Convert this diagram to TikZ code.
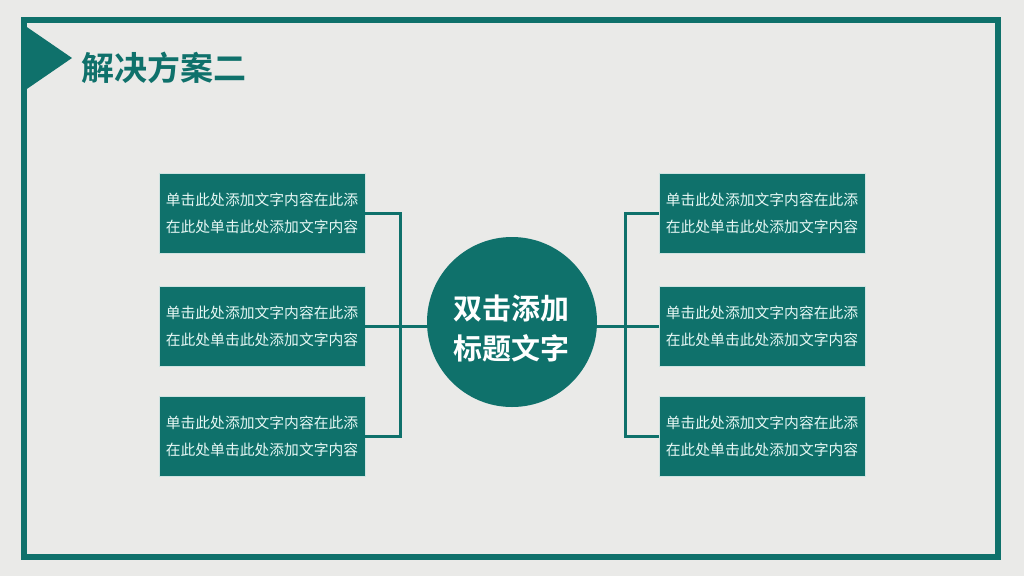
\documentclass[tikz,border=0pt]{standalone}
\usepackage{fontspec}
\newfontfamily\cjk{Noto Sans CJK SC}
\newfontfamily\cjkb{Noto Sans CJK SC Bold}
\definecolor{teal1}{HTML}{0F716B}
\definecolor{bgc}{HTML}{EAEAE8}
\definecolor{txtc}{HTML}{E6F7F4}
\begin{document}
\begin{tikzpicture}[x=1pt,y=-1pt,
  frame/.style={draw=teal1,line width=6pt},
  tbox/.style={fill=teal1,draw=white!80!teal1,line width=0.6pt,minimum width=206pt,minimum height=80pt,inner sep=0pt,
    text=txtc,font=\cjk\fontsize{14.8}{27}\selectfont,align=center},
  link/.style={draw=teal1,line width=3pt}]
\fill[bgc] (0,0) rectangle (1024,576);
\useasboundingbox (0,0) rectangle (1024,576);
\draw[frame] (24,20) rectangle (998,557);
\fill[teal1] (21,23) coordinate (t1) -- (72,58) coordinate (t2) -- (21,93) coordinate (t3) -- cycle;
\node[anchor=west,text=teal1,font=\cjkb\fontsize{33}{33}\selectfont,inner sep=0pt] (title) at (81,68) {解决方案二};
\node[circle,fill=teal1,minimum size=170pt,inner sep=0pt] (c) at (512,322) {};
\node[text=white,align=center,inner sep=0pt,font=\cjkb\fontsize{29}{40}\selectfont] (ct) at (511,328) {双击添加\\标题文字};
\node[tbox] (l1) at (262,213) {单击此处添加文字内容在此添\\在此处单击此处添加文字内容};
\node[tbox] (l2) at (262,326) {单击此处添加文字内容在此添\\在此处单击此处添加文字内容};
\node[tbox] (l3) at (262,436) {单击此处添加文字内容在此添\\在此处单击此处添加文字内容};
\node[tbox] (r1) at (762,213) {单击此处添加文字内容在此添\\在此处单击此处添加文字内容};
\node[tbox] (r2) at (762,326) {单击此处添加文字内容在此添\\在此处单击此处添加文字内容};
\node[tbox] (r3) at (762,436) {单击此处添加文字内容在此添\\在此处单击此处添加文字内容};
\coordinate (lt) at (400,213);
\coordinate (lb) at (400,436);
\coordinate (rt) at (625,213);
\coordinate (rb) at (625,436);
\draw[link,line join=miter] (l1.east) -- (lt) -- (lb) -- (l3.east);
\draw[link] (l2.east) -- (c.west |- l2.east);
\draw[link,line join=miter] (r1.west) -- (rt) -- (rb) -- (r3.west);
\draw[link] (r2.west) -- (c.east |- r2.west);
\end{tikzpicture}
\end{document}
